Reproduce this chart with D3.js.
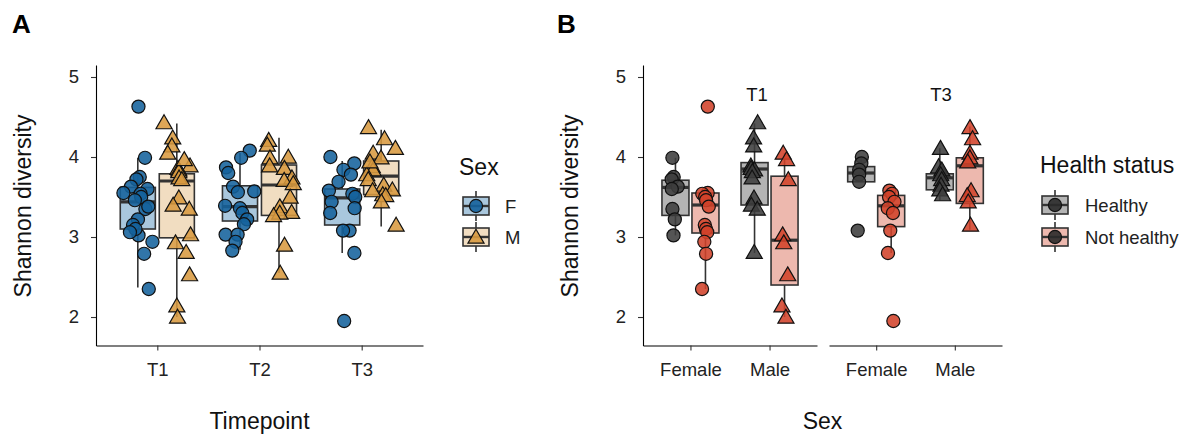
<!DOCTYPE html>
<html><head><meta charset="utf-8">
<script src="https://cdn.jsdelivr.net/npm/d3@7"></script>
<style>
body{margin:0;background:#fff}
text{font-family:"Liberation Sans",Arial,Helvetica,sans-serif}
</style>
</head><body><svg id="c" width="1183" height="434"></svg>
<script>
// ---------------- DATA ----------------
const timepoints = ["T1", "T2", "T3"];
const sexes = ["F", "M"];
const sexLabels = ["Female", "Male"];
const healthGroups = ["Healthy", "Not healthy"];
const facets = ["T1", "T3"];
const yTicks = [2, 3, 4, 5];

// Shannon diversity per sample (panel B groups; panel A T1/T3 are their union)
const t1FemaleHealthy = [3.99, 3.75, 3.72, 3.63, 3.60, 3.35, 3.22, 3.02];
const t1FemaleNotHealthy = [4.63, 3.55, 3.54, 3.50, 3.46, 3.38, 3.15, 3.10, 3.06, 2.94, 2.79, 2.35];
const t1MaleHealthy = [4.43, 4.24, 4.14, 3.89, 3.86, 3.84, 3.82, 3.74, 3.49, 3.40, 3.35, 2.81];
const t1MaleNotHealthy = [4.05, 3.97, 3.72, 3.03, 2.93, 2.53, 2.14, 2.00];
const t3FemaleHealthy = [4.00, 3.92, 3.84, 3.78, 3.69, 3.08];
const t3FemaleNotHealthy = [3.58, 3.54, 3.50, 3.44, 3.36, 3.30, 3.08, 2.80, 1.95];
const t3MaleHealthy = [4.11, 3.88, 3.84, 3.78, 3.72, 3.65, 3.59, 3.53];
const t3MaleNotHealthy = [4.37, 4.23, 4.05, 3.99, 3.94, 3.58, 3.52, 3.44, 3.15];
const t2Female = [4.08, 3.99, 3.87, 3.80, 3.63, 3.57, 3.56, 3.39, 3.36, 3.30, 3.22, 3.16, 3.03, 3.03, 2.94, 2.83];
const t2Male = [4.21, 4.15, 4.00, 3.99, 3.89, 3.86, 3.74, 3.71, 3.67, 3.50, 3.38, 3.31, 3.30, 3.27, 2.90, 2.55];

// Box statistics: [lower whisker, Q1, median, Q3, upper whisker]
const boxA_Female = [[2.37, 3.10, 3.44, 3.62, 3.99], [2.84, 3.20, 3.38, 3.64, 4.05], [2.80, 3.15, 3.49, 3.60, 3.95]];
const boxA_Male = [[2.00, 2.99, 3.70, 3.79, 4.42], [2.55, 3.27, 3.65, 3.90, 4.24], [3.13, 3.53, 3.76, 3.95, 4.34]];
const boxB_T1_Healthy = [[3.02, 3.27, 3.62, 3.71, 3.99], [2.80, 3.40, 3.85, 3.93, 4.42]];
const boxB_T1_NotHealthy = [[2.35, 3.05, 3.40, 3.55, 3.55], [2.00, 2.40, 2.96, 3.76, 4.05]];
const boxB_T3_Healthy = [[3.69, 3.69, 3.80, 3.88, 4.00], [3.46, 3.59, 3.74, 3.79, 4.11]];
const boxB_T3_NotHealthy = [[2.80, 3.13, 3.39, 3.52, 3.58], [3.09, 3.42, 3.89, 3.99, 4.38]];

// ---------------- STYLE ----------------
const ptFill = {F: "#15629c", M: "#d89a40", Healthy: "#3d3d3d", "Not healthy": "#d2422a"};
const boxFill = {F: "#a9c7dd", M: "#f1ddc1", Healthy: "#b4b4b4", "Not healthy": "#edb8ae"};
const stroke = "#333";
const tickFont = 18.5, titleFont = 23;

const svg = d3.select("#c");
const y = d3.scaleLinear().domain([1.644, 5.15]).range([345.5, 65]);
const yFmt = d3.format("d");

const circle = d3.symbol().type(d3.symbolCircle).size(135)();
const tri = d3.symbol().type(d3.symbolTriangle).size(112)();

function jit(i, seed) {
  const v = Math.sin((i + 1) * 12.9898 + seed * 78.233) * 43758.5453;
  return v - Math.floor(v) - 0.5;
}

function drawBox(g, cx, w, s, fill) {
  const [lo, q1, med, q3, hi] = s;
  g.append("line").attr("x1", cx).attr("x2", cx).attr("y1", y(hi)).attr("y2", y(q3))
    .attr("stroke", stroke).attr("stroke-width", 1.6);
  g.append("line").attr("x1", cx).attr("x2", cx).attr("y1", y(q1)).attr("y2", y(lo))
    .attr("stroke", stroke).attr("stroke-width", 1.6);
  g.append("rect").attr("x", cx - w / 2).attr("width", w).attr("y", y(q3)).attr("height", y(q1) - y(q3))
    .attr("fill", fill).attr("stroke", stroke).attr("stroke-width", 1.6);
  g.append("line").attr("x1", cx - w / 2).attr("x2", cx + w / 2).attr("y1", y(med)).attr("y2", y(med))
    .attr("stroke", stroke).attr("stroke-width", 3.2);
}

function drawPoints(g, cx, vals, shape, fill, jw, seed) {
  g.selectAll(null).data(vals).enter().append("path")
    .attr("d", shape === "F" ? circle : tri)
    .attr("transform", (d, i) => `translate(${cx + jit(i, seed) * jw},${y(d) + (shape === "F" ? 0 : 1.5)})`)
    .attr("fill", fill).attr("fill-opacity", 0.88)
    .attr("stroke", "#111").attr("stroke-width", 1.2);
}

function styleAxis(g) {
  g.selectAll(".domain").attr("stroke", "#000").attr("stroke-width", 1.1);
  g.selectAll(".tick line").attr("stroke", "#333").attr("stroke-width", 1.1);
  g.selectAll(".tick text").attr("fill", "#222").style("font-size", tickFont + "px");
}

// ---------------- PANEL A ----------------
const xA = d3.scalePoint().domain(timepoints).range([96, 423]).padding(0.6);
const dA = d3.scaleBand().domain(sexes).range([-39, 39]);
const gA = svg.append("g");

const seriesA = {
  F: [t1FemaleHealthy.concat(t1FemaleNotHealthy), t2Female, t3FemaleHealthy.concat(t3FemaleNotHealthy)],
  M: [t1MaleHealthy.concat(t1MaleNotHealthy), t2Male, t3MaleHealthy.concat(t3MaleNotHealthy)]
};
const boxA = {F: boxA_Female, M: boxA_Male};

timepoints.forEach((t, ti) => sexes.forEach(s => {
  drawBox(gA, xA(t) + dA(s) + dA.bandwidth() / 2, dA.bandwidth() * 0.9, boxA[s][ti], boxFill[s]);
}));
timepoints.forEach((t, ti) => sexes.forEach((s, si) => {
  drawPoints(gA, xA(t) + dA(s) + dA.bandwidth() / 2, seriesA[s][ti], s, ptFill[s], 30, ti * 3 + si + 1);
}));

const axAy = gA.append("g").attr("transform", "translate(96,0)")
  .call(d3.axisLeft(y).tickValues(yTicks).tickFormat(yFmt).tickSize(5).tickPadding(12).tickSizeOuter(0));
styleAxis(axAy);
const axAx = gA.append("g").attr("transform", "translate(0,345.5)")
  .call(d3.axisBottom(xA).tickSize(5).tickPadding(12).tickSizeOuter(0));
styleAxis(axAx);

gA.append("text").attr("transform", "translate(31,206) rotate(-90)").attr("text-anchor", "middle")
  .style("font-size", titleFont + "px").attr("fill", "#111").text("Shannon diversity");
gA.append("text").attr("x", 259.5).attr("y", 429).attr("text-anchor", "middle")
  .style("font-size", titleFont + "px").attr("fill", "#111").text("Timepoint");
svg.append("text").attr("x", 12).attr("y", 33).style("font-size", "26px").style("font-weight", "bold").text("A");

// Legend A
gA.append("text").attr("x", 459).attr("y", 175).style("font-size", titleFont + "px").attr("fill", "#111").text("Sex");
function legendKey(g, cx, cy, fill, ptf, shape) {
  g.append("line").attr("x1", cx).attr("x2", cx).attr("y1", cy - 15).attr("y2", cy + 15)
    .attr("stroke", stroke).attr("stroke-width", 1.6);
  g.append("rect").attr("x", cx - 13).attr("y", cy - 9).attr("width", 26).attr("height", 18)
    .attr("fill", fill).attr("stroke", stroke).attr("stroke-width", 1.6);
  g.append("line").attr("x1", cx - 13).attr("x2", cx + 13).attr("y1", cy).attr("y2", cy)
    .attr("stroke", stroke).attr("stroke-width", 2.4);
  g.append("path").attr("d", shape === "M" ? tri : circle)
    .attr("transform", `translate(${cx},${cy + (shape === "M" ? 1.5 : 0)})`)
    .attr("fill", ptf).attr("fill-opacity", 0.9).attr("stroke", "#111").attr("stroke-width", 1.2);
}
sexes.forEach((s, i) => {
  legendKey(gA, 476, 206 + i * 31, boxFill[s], ptFill[s], s);
  gA.append("text").attr("x", 505).attr("y", 213 + i * 31).style("font-size", tickFont + "px").attr("fill", "#222").text(s);
});

// ---------------- PANEL B ----------------
const gB = svg.append("g");
const facetRanges = [[643, 817], [829, 1002]];
const dB = d3.scaleBand().domain(healthGroups).range([-30, 30]);
const seriesB = {
  T1: {Healthy: [t1FemaleHealthy, t1MaleHealthy], "Not healthy": [t1FemaleNotHealthy, t1MaleNotHealthy]},
  T3: {Healthy: [t3FemaleHealthy, t3MaleHealthy], "Not healthy": [t3FemaleNotHealthy, t3MaleNotHealthy]}
};
const boxB = {
  T1: {Healthy: boxB_T1_Healthy, "Not healthy": boxB_T1_NotHealthy},
  T3: {Healthy: boxB_T3_Healthy, "Not healthy": boxB_T3_NotHealthy}
};
const stripX = [757, 941];

facets.forEach((f, fi) => {
  const xB = d3.scalePoint().domain(sexLabels).range(facetRanges[fi]).padding(0.6);
  sexLabels.forEach((sx, si) => healthGroups.forEach(h => {
    drawBox(gB, xB(sx) + dB(h) + dB.bandwidth() / 2, dB.bandwidth() * 0.9, boxB[f][h][si], boxFill[h]);
  }));
  sexLabels.forEach((sx, si) => healthGroups.forEach((h, hi) => {
    drawPoints(gB, xB(sx) + dB(h) + dB.bandwidth() / 2, seriesB[f][h][si], sexes[si], ptFill[h], 8, 20 + fi * 5 + si * 2 + hi);
  }));
  const ax = gB.append("g").attr("transform", "translate(0,345.5)")
    .call(d3.axisBottom(xB).tickSize(5).tickPadding(12).tickSizeOuter(0));
  styleAxis(ax);
  gB.append("text").attr("x", stripX[fi]).attr("y", 101).attr("text-anchor", "middle")
    .style("font-size", tickFont + "px").attr("fill", "#111").text(f);
});

const axBy = gB.append("g").attr("transform", "translate(643,0)")
  .call(d3.axisLeft(y).tickValues(yTicks).tickFormat(yFmt).tickSize(5).tickPadding(12).tickSizeOuter(0));
styleAxis(axBy);

gB.append("text").attr("transform", "translate(578,206) rotate(-90)").attr("text-anchor", "middle")
  .style("font-size", titleFont + "px").attr("fill", "#111").text("Shannon diversity");
gB.append("text").attr("x", 822.5).attr("y", 429).attr("text-anchor", "middle")
  .style("font-size", titleFont + "px").attr("fill", "#111").text("Sex");
svg.append("text").attr("x", 557).attr("y", 33).style("font-size", "26px").style("font-weight", "bold").text("B");

// Legend B
gB.append("text").attr("x", 1040).attr("y", 173).style("font-size", titleFont + "px").attr("fill", "#111").text("Health status");
healthGroups.forEach((h, i) => {
  legendKey(gB, 1055, 205 + i * 32, boxFill[h], "#2a2a2a", "F");
  gB.append("text").attr("x", 1085).attr("y", 212 + i * 32).style("font-size", tickFont + "px").attr("fill", "#222").text(h);
});
</script>
</body></html>
